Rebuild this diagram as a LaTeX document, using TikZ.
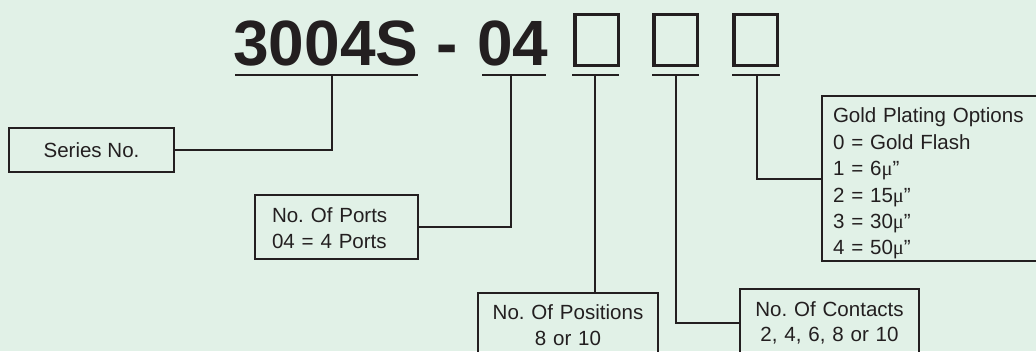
\documentclass[tikz,border=0pt]{standalone}
\usepackage{fontspec}
\setmainfont{Liberation Sans}
\newfontfamily\mufont{Liberation Serif}
\usepackage{xcolor}
\definecolor{bgmint}{RGB}{225,241,231}
\definecolor{ink}{RGB}{35,31,32}
\frenchspacing

\tikzset{
  partno/.style={font=\fontsize{48}{48}\selectfont\bfseries, text=ink, inner sep=0pt, anchor=base west},
  slot/.style={draw=ink, line width=2.6pt, minimum width=32.6pt, minimum height=37.9pt, inner sep=0pt},
  uline/.style={draw=ink, line width=1.5pt},
  infobox/.style={draw=ink, line width=1.5pt, text=ink, inner sep=0pt, font=\fontsize{15.4}{19}\selectfont},
  link/.style={draw=ink, line width=1.5pt},
}

\begin{document}
\begin{tikzpicture}[x=0.75pt, y=-0.75pt]
\useasboundingbox (0,0) rectangle (1036,351);
\clip (0,0) rectangle (1036,351);
\fill[bgmint] (0,0) rectangle (1036,351);

\node[partno] (series) at (233,65) {3004S};
\node[partno, anchor=base] (dash) at (447,65) {-};
\node[partno, anchor=base east] (ports) at (548.5,65) {04};
\node[slot] (slotpos) at (596.5,40) {};
\node[slot] (slotcon) at (675.5,40) {};
\node[slot] (slotgold) at (755.5,40) {};

\foreach \xa/\xb in {235/418, 482/546, 572/619, 652/699, 732/780}
  \draw[uline] (\xa,75) -- (\xb,75);

\coordinate (tser) at (332,75);
\coordinate (tports) at (511,75);
\coordinate (tpos) at (595,75);
\coordinate (tcon) at (676,75);
\coordinate (tgold) at (757,75);

\node[infobox, minimum width=123.75pt, minimum height=33pt] (serbox) at (91.5,150) {Series No.};
\node[infobox, align=left, text width=96.75pt, inner xsep=12.75pt, minimum height=48pt] (portbox) at (336.5,227)
  {\rule{0pt}{13pt}No. Of Ports\\04 = 4 Ports};
\node[infobox, align=center, text width=135pt, minimum height=48pt] (posbox) at (568,325)
  {No. Of Positions\\8 or 10};
\node[infobox, align=center, text width=134.25pt, minimum height=51pt] (conbox) at (829.5,323)
  {No. Of Contacts\\2, 4, 6, 8 or 10};
\node[infobox, align=left, text width=151.5pt, inner xsep=8.25pt, minimum height=123.75pt,
  font=\fontsize{15.4}{19.8}\selectfont] (goldbox) at (934,178.5)
  {\rule{0pt}{19pt}Gold Plating Options\\0 = Gold Flash\\1 = 6{\mufont μ}”\\2 = 15{\mufont μ}”\\3 = 30{\mufont μ}”\\4 = 50{\mufont μ}”};

\draw[link] (tser) |- (serbox);
\draw[link] (tports) |- (portbox);
\draw[link] (tpos) -- (tpos |- posbox.north);
\draw[link] (tcon) |- (conbox);
\draw[link] (tgold) |- (goldbox);
\end{tikzpicture}
\end{document}
